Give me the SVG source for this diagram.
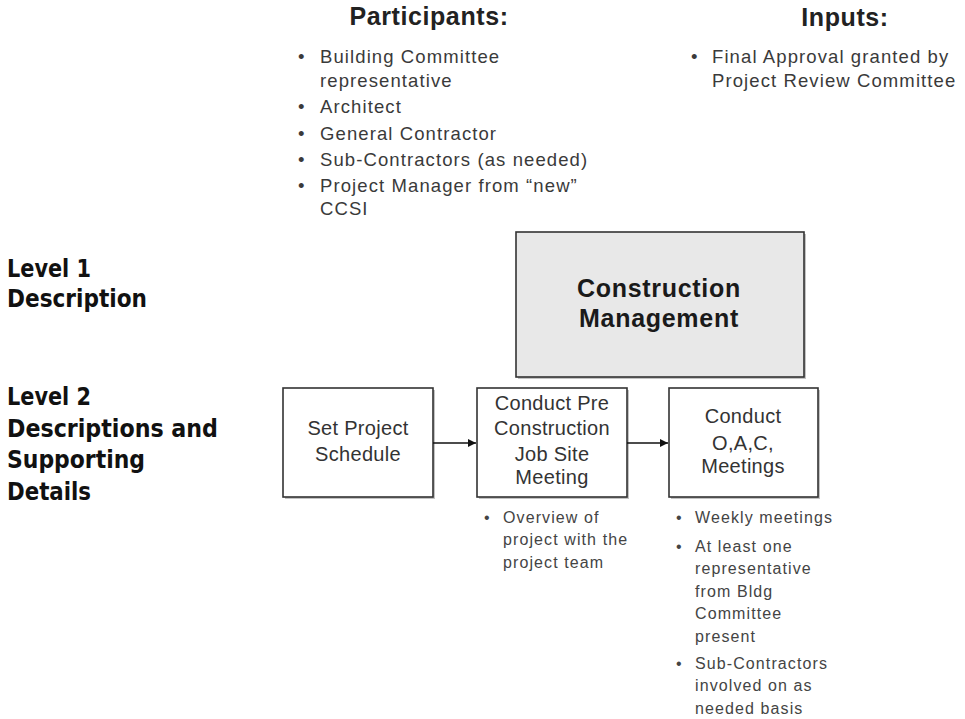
<svg xmlns="http://www.w3.org/2000/svg" width="965" height="719" viewBox="0 0 965 719">
<defs>
<style>
.hd{font-family:"Liberation Sans",Arial,sans-serif;font-weight:bold;font-size:25px;fill:#222;text-anchor:middle;letter-spacing:0.6px}
.li{font-family:"Liberation Sans",Arial,sans-serif;font-size:18.5px;fill:#3a3a3a;letter-spacing:1.1px}
.sm{font-family:"Liberation Sans",Arial,sans-serif;font-size:16px;fill:#444;letter-spacing:1.1px}
.bx{font-family:"Liberation Sans",Arial,sans-serif;font-size:20px;fill:#333;text-anchor:middle;letter-spacing:0.3px}
.big{font-family:"Liberation Sans",Arial,sans-serif;font-weight:bold;font-size:25px;fill:#1a1a1a;text-anchor:middle;letter-spacing:0.7px}
.lv{font-family:"DejaVu Sans Condensed","DejaVu Sans",sans-serif;font-weight:bold;font-size:25px;fill:#111}
.box{fill:#fff;stroke:#333;stroke-width:1.6}
.sh{fill:#888;opacity:0.5}
.con{stroke:#111;stroke-width:1.6;fill:none}
</style>
<marker id="ah" viewBox="0 0 10 10" refX="10" refY="5" markerWidth="8" markerHeight="8" orient="auto" markerUnits="userSpaceOnUse">
<path d="M0,0 L10,5 L0,10 z" fill="#111"/>
</marker>
</defs>
<rect width="965" height="719" fill="#fff"/>

<g id="levels">
<text class="lv" x="7" y="277" textLength="84" lengthAdjust="spacingAndGlyphs">Level 1</text>
<text class="lv" x="7" y="307" textLength="140" lengthAdjust="spacingAndGlyphs">Description</text>
<text class="lv" x="7" y="405" textLength="84" lengthAdjust="spacingAndGlyphs">Level 2</text>
<text class="lv" x="7" y="437" textLength="211" lengthAdjust="spacingAndGlyphs">Descriptions and</text>
<text class="lv" x="7" y="468" textLength="138" lengthAdjust="spacingAndGlyphs">Supporting</text>
<text class="lv" x="7" y="500" textLength="84" lengthAdjust="spacingAndGlyphs">Details</text>
</g>

<g id="participants">
<text class="hd" x="429" y="25">Participants:</text>
<g class="li">
<text x="298" y="63">•</text><text x="320" y="63">Building Committee</text>
<text x="320" y="87">representative</text>
<text x="298" y="113">•</text><text x="320" y="113">Architect</text>
<text x="298" y="140">•</text><text x="320" y="140">General Contractor</text>
<text x="298" y="166">•</text><text x="320" y="166">Sub-Contractors (as needed)</text>
<text x="298" y="192">•</text><text x="320" y="192">Project Manager from “new”</text>
<text x="320" y="215">CCSI</text>
</g>
</g>

<g id="inputs">
<text class="hd" x="845" y="26">Inputs:</text>
<g class="li">
<text x="691" y="63">•</text><text x="712" y="63">Final Approval granted by</text>
<text x="712" y="87">Project Review Committee</text>
</g>
</g>

<g id="construction-management">
<rect class="sh" x="518" y="234" width="288" height="145"/>
<rect x="516" y="232" width="288" height="145" fill="#e8e8e8" stroke="#333" stroke-width="1.6"/>
<text class="big" x="659" y="297">Construction</text>
<text class="big" x="659" y="327">Management</text>
</g>

<g id="set-project-schedule">
<rect class="sh" x="285" y="390" width="150" height="109"/>
<rect class="box" x="283" y="388" width="150" height="109"/>
<text class="bx" x="358" y="435">Set Project</text>
<text class="bx" x="358" y="461">Schedule</text>
</g>

<g id="pre-construction-meeting">
<rect class="sh" x="479" y="390" width="150" height="109"/>
<rect class="box" x="477" y="388" width="150" height="109"/>
<text class="bx" x="552" y="410">Conduct Pre</text>
<text class="bx" x="552" y="435">Construction</text>
<text class="bx" x="552" y="461">Job Site</text>
<text class="bx" x="552" y="484">Meeting</text>
<g class="sm">
<text x="484" y="523">•</text><text x="503" y="523">Overview of</text>
<text x="503" y="545">project with the</text>
<text x="503" y="568">project team</text>
</g>
</g>

<g id="oac-meetings">
<rect class="sh" x="671" y="390" width="149" height="109"/>
<rect class="box" x="669" y="388" width="149" height="109"/>
<text class="bx" x="743" y="423">Conduct</text>
<text class="bx" x="743" y="450">O,A,C,</text>
<text class="bx" x="743" y="473">Meetings</text>
<g class="sm">
<text x="676" y="523">•</text><text x="695" y="523">Weekly meetings</text>
<text x="676" y="552">•</text><text x="695" y="552">At least one</text>
<text x="695" y="574">representative</text>
<text x="695" y="597">from Bldg</text>
<text x="695" y="619">Committee</text>
<text x="695" y="642">present</text>
<text x="676" y="669">•</text><text x="695" y="669">Sub-Contractors</text>
<text x="695" y="691">involved on as</text>
<text x="695" y="714">needed basis</text>
</g>
</g>

<g id="connectors">
<line class="con" x1="433" y1="443" x2="476" y2="443" marker-end="url(#ah)"/>
<line class="con" x1="627" y1="443" x2="668" y2="443" marker-end="url(#ah)"/>
</g>
</svg>
